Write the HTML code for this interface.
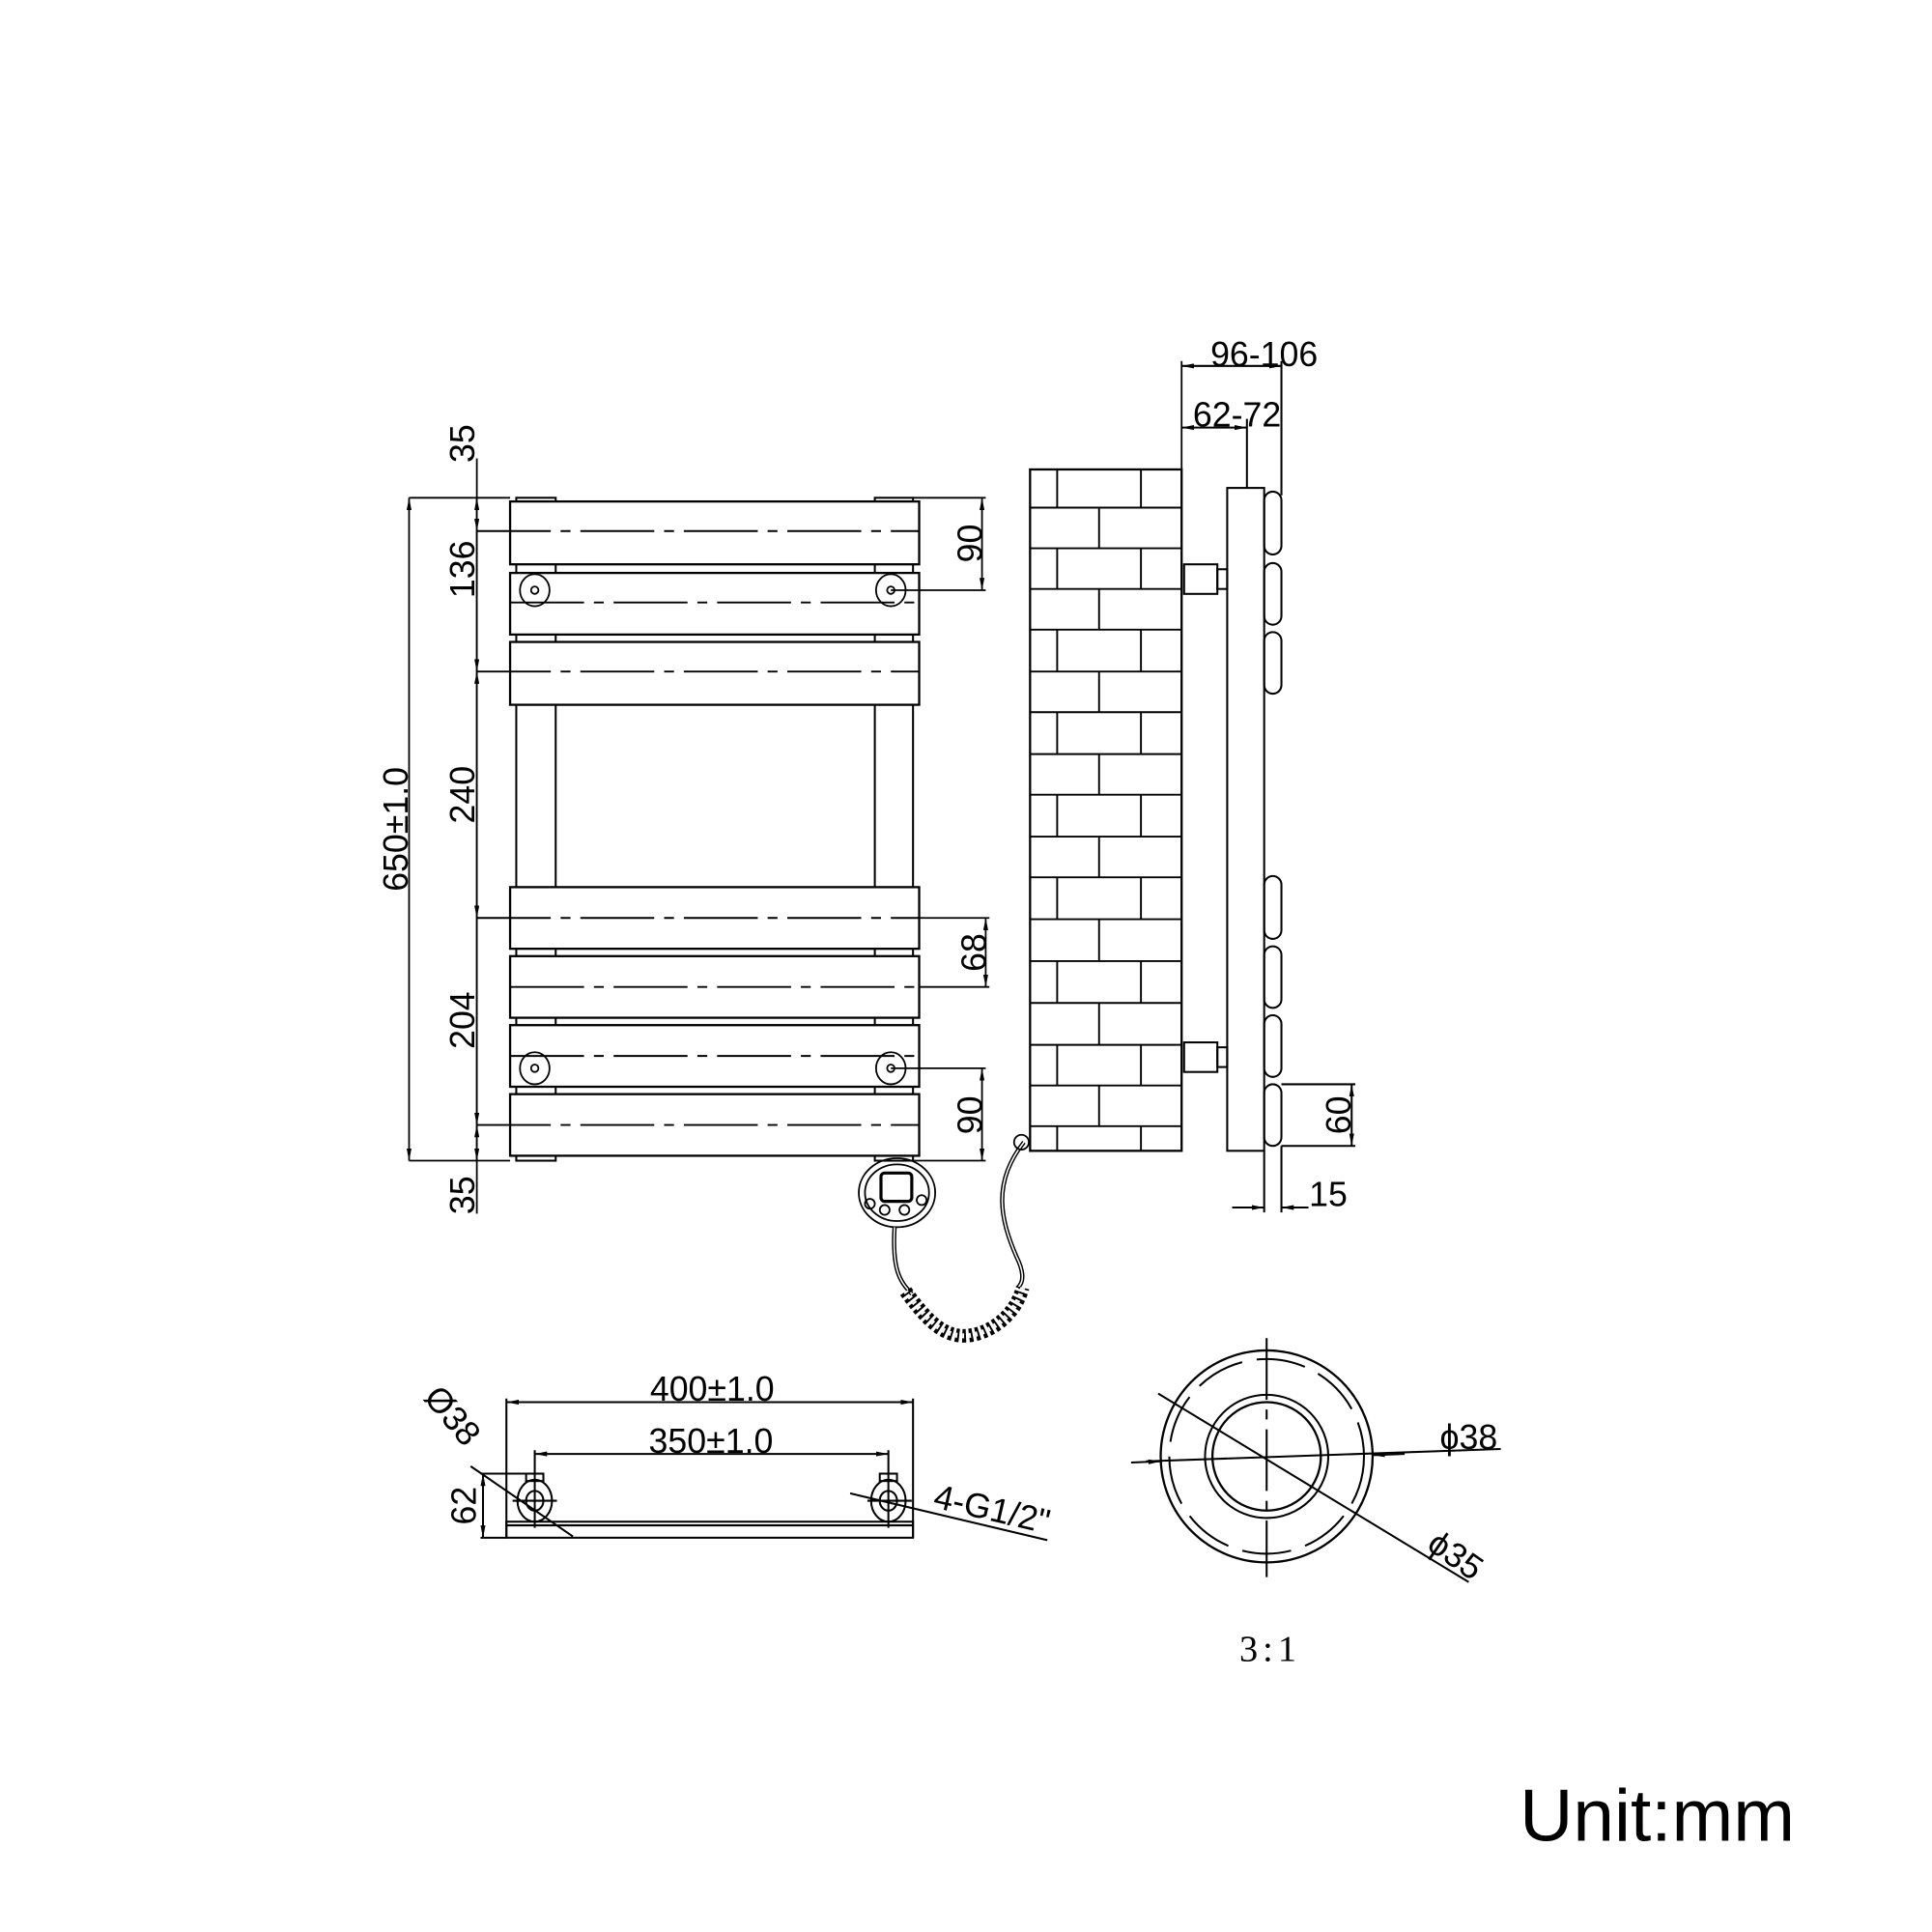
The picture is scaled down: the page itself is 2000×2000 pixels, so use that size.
<!DOCTYPE html>
<html><head><meta charset="utf-8"><style>html,body{margin:0;padding:0;background:#fff}svg{display:block}</style></head>
<body>
<svg width="2000" height="2000" viewBox="0 0 1568 1568" xmlns="http://www.w3.org/2000/svg" font-family="Liberation Sans, sans-serif">
<defs>
<marker id="a" viewBox="0 0 10 4" refX="10" refY="2" markerWidth="10" markerHeight="4" markerUnits="userSpaceOnUse" orient="auto-start-reverse"><path d="M0,0 L10,2 L0,4z" fill="#000"/></marker>
</defs>
<g fill="none" stroke="#000" stroke-width="1.6">
<rect x="419" y="404" width="32" height="3"/><rect x="710" y="404" width="31" height="3"/>
<rect x="419" y="938" width="32" height="4"/><rect x="710" y="938" width="31" height="4"/>
<line x1="419" y1="407" x2="419" y2="938"/><line x1="451" y1="407" x2="451" y2="938"/>
<line x1="710" y1="407" x2="710" y2="938"/><line x1="741" y1="407" x2="741" y2="938"/>
</g>
<g fill="#fff" stroke="#000" stroke-width="1.8">
<rect x="414" y="407" width="332" height="51"/>
<rect x="414" y="465" width="332" height="50"/>
<rect x="414" y="521" width="332" height="51"/>
<rect x="414" y="720" width="332" height="50"/>
<rect x="414" y="776" width="332" height="50"/>
<rect x="414" y="832" width="332" height="50"/>
<rect x="414" y="888" width="332" height="50"/>
</g>
<g stroke="#000" stroke-width="1.5" stroke-dasharray="60,8,8,8">
<line x1="387" y1="431" x2="746" y2="431"/><line x1="414" y1="489" x2="746" y2="489"/>
<line x1="387" y1="545" x2="746" y2="545"/><line x1="387" y1="745" x2="746" y2="745"/>
<line x1="414" y1="801" x2="746" y2="801"/><line x1="414" y1="857" x2="746" y2="857"/>
<line x1="387" y1="913" x2="746" y2="913"/>
</g>
<g fill="none" stroke="#000" stroke-width="1.4">
<ellipse cx="434" cy="479" rx="12" ry="13"/><circle cx="434" cy="479" r="3"/>
<ellipse cx="723" cy="479" rx="12" ry="13"/><circle cx="723" cy="479" r="3"/>
<ellipse cx="434" cy="867" rx="12" ry="13"/><circle cx="434" cy="867" r="3"/>
<ellipse cx="723" cy="867" rx="12" ry="13"/><circle cx="723" cy="867" r="3"/>
<line x1="332" y1="404" x2="414" y2="404"/><line x1="332" y1="942" x2="414" y2="942"/>
<line x1="332" y1="404" x2="332" y2="942" marker-start="url(#a)" marker-end="url(#a)"/>
<line x1="387" y1="372" x2="387" y2="985"/>
<line x1="387" y1="404" x2="387" y2="431" marker-start="url(#a)" marker-end="url(#a)"/>
<line x1="387" y1="431" x2="387" y2="545" marker-end="url(#a)"/>
<line x1="387" y1="545" x2="387" y2="745" marker-start="url(#a)" marker-end="url(#a)"/>
<line x1="387" y1="745" x2="387" y2="913" marker-end="url(#a)"/>
<line x1="387" y1="913" x2="387" y2="942" marker-start="url(#a)" marker-end="url(#a)"/>
<line x1="741" y1="404" x2="800" y2="404"/><line x1="723" y1="479" x2="800" y2="479"/>
<line x1="797" y1="404" x2="797" y2="479" marker-start="url(#a)" marker-end="url(#a)"/>
<line x1="746" y1="745" x2="803" y2="745"/><line x1="746" y1="801" x2="803" y2="801"/>
<line x1="800" y1="745" x2="800" y2="801" marker-start="url(#a)" marker-end="url(#a)"/>
<line x1="723" y1="867" x2="800" y2="867"/><line x1="741" y1="942" x2="800" y2="942"/>
<line x1="797" y1="867" x2="797" y2="942" marker-start="url(#a)" marker-end="url(#a)"/>
<ellipse cx="728" cy="968" rx="31" ry="28"/><ellipse cx="728" cy="968" rx="26" ry="23"/>
<rect x="715" y="952" width="25" height="23" rx="3" stroke-width="2.5"/>
<circle cx="706" cy="977" r="4"/><circle cx="718" cy="982" r="4"/><circle cx="734" cy="982" r="4"/><circle cx="748" cy="974" r="4"/>
<path d="M726,996 C724,1030 730,1040 740,1050" stroke-width="3.5"/>
<path d="M726,996 C724,1030 730,1040 740,1050" stroke="#fff" stroke-width="1.2"/>
<path d="M831,927 C805,960 812,990 825,1020 C830,1030 832,1040 826,1045" stroke-width="3.5"/>
<path d="M831,927 C805,960 812,990 825,1020 C830,1030 832,1040 826,1045" stroke="#fff" stroke-width="1.2"/>
<circle cx="829" cy="927" r="6"/>
<path d="M735,1048 C755,1075 770,1090 795,1082 C815,1075 826,1060 830,1045" stroke-width="11" stroke-dasharray="3,2.5"/>
<path d="M735,1048 C755,1075 770,1090 795,1082 C815,1075 826,1060 830,1045" stroke="#fff" stroke-width="4" stroke-dasharray="1.5,4"/>
<rect x="836" y="381" width="123" height="553" stroke-width="1.8"/>
<line x1="959" y1="293" x2="959" y2="381"/>
</g>
<g stroke="#000" stroke-width="1.5">
<line x1="836" y1="412" x2="959" y2="412"/><line x1="836" y1="445" x2="959" y2="445"/><line x1="836" y1="478" x2="959" y2="478"/><line x1="836" y1="511" x2="959" y2="511"/><line x1="836" y1="545" x2="959" y2="545"/><line x1="836" y1="578" x2="959" y2="578"/><line x1="836" y1="612" x2="959" y2="612"/><line x1="836" y1="645" x2="959" y2="645"/><line x1="836" y1="679" x2="959" y2="679"/><line x1="836" y1="712" x2="959" y2="712"/><line x1="836" y1="746" x2="959" y2="746"/><line x1="836" y1="780" x2="959" y2="780"/><line x1="836" y1="814" x2="959" y2="814"/><line x1="836" y1="848" x2="959" y2="848"/><line x1="836" y1="881" x2="959" y2="881"/><line x1="836" y1="914" x2="959" y2="914"/>
<path d="M858,381V412M926,381V412M892,412V445M858,445V478M926,445V478M892,478V511M858,511V545M926,511V545M892,545V578M858,578V612M926,578V612M892,612V645M858,645V679M926,645V679M892,679V712M858,712V746M926,712V746M892,746V780M858,780V814M926,780V814M892,814V848M858,848V881M926,848V881M892,881V914M858,914V934M926,914V934"/>
</g>
<g fill="none" stroke="#000" stroke-width="1.6">
<rect x="996" y="396" width="30" height="538"/>
<line x1="1012" y1="340" x2="1012" y2="396"/>
<line x1="1040" y1="293" x2="1040" y2="402"/>
<rect x="961" y="458" width="27" height="24"/><rect x="988" y="462" width="8" height="16"/>
<rect x="961" y="846" width="27" height="24"/><rect x="988" y="850" width="8" height="16"/>
<rect x="1026" y="399" width="14" height="51" rx="7"/><rect x="1026" y="457" width="14" height="50" rx="7"/><rect x="1026" y="513" width="14" height="50" rx="7"/>
<rect x="1026" y="711" width="14" height="51" rx="7"/><rect x="1026" y="768" width="14" height="50" rx="7"/><rect x="1026" y="824" width="14" height="50" rx="7"/><rect x="1026" y="880" width="14" height="50" rx="7"/>
<line x1="959" y1="297" x2="1040" y2="297" marker-start="url(#a)" marker-end="url(#a)"/>
<line x1="959" y1="347" x2="1012" y2="347" marker-start="url(#a)" marker-end="url(#a)"/>
<line x1="1040" y1="880" x2="1100" y2="880"/><line x1="1040" y1="930" x2="1100" y2="930"/>
<line x1="1097" y1="880" x2="1097" y2="930" marker-start="url(#a)" marker-end="url(#a)"/>
<line x1="1026" y1="934" x2="1026" y2="984"/><line x1="1040" y1="930" x2="1040" y2="984"/>
<line x1="1000" y1="980" x2="1026" y2="980" marker-end="url(#a)"/><line x1="1062" y1="980" x2="1040" y2="980" marker-end="url(#a)"/>
<rect x="411" y="1235" width="330" height="13"/><line x1="411" y1="1238" x2="741" y2="1238"/>
<line x1="411" y1="1135" x2="411" y2="1248"/><line x1="741" y1="1135" x2="741" y2="1248"/>
<line x1="411" y1="1138" x2="741" y2="1138" marker-start="url(#a)" marker-end="url(#a)"/>
<line x1="434" y1="1177" x2="434" y2="1240"/><line x1="721" y1="1177" x2="721" y2="1240"/>
<line x1="434" y1="1180" x2="721" y2="1180" marker-start="url(#a)" marker-end="url(#a)"/>
<ellipse cx="434" cy="1218" rx="14" ry="17"/><ellipse cx="434" cy="1218" rx="7" ry="8"/>
<ellipse cx="721" cy="1218" rx="14" ry="17"/><ellipse cx="721" cy="1218" rx="7" ry="8"/>
<rect x="427" y="1196" width="14" height="6"/><rect x="714" y="1196" width="14" height="6"/>
<line x1="416" y1="1218" x2="452" y2="1218"/><line x1="704" y1="1218" x2="740" y2="1218"/>
<line x1="390" y1="1196" x2="434" y2="1196"/><line x1="390" y1="1248" x2="411" y2="1248"/>
<line x1="392" y1="1196" x2="392" y2="1248" marker-start="url(#a)" marker-end="url(#a)"/>
<line x1="382" y1="1190" x2="465" y2="1247"/>
<line x1="690" y1="1212" x2="850" y2="1250"/>
<circle cx="1028" cy="1182" r="86" stroke-width="1.8"/>
<circle cx="1028" cy="1182" r="79" stroke-dasharray="40,12"/>
<circle cx="1028" cy="1182" r="50"/>
<circle cx="1028" cy="1182" r="44" stroke-width="1.8"/>
<line x1="1028" y1="1086" x2="1028" y2="1280" stroke-dasharray="50,8,8,8"/>
<line x1="918" y1="1187" x2="942" y2="1186" marker-end="url(#a)"/>
<line x1="930" y1="1186" x2="1218" y2="1176"/>
<line x1="1140" y1="1180" x2="1114" y2="1181" marker-end="url(#a)"/>
<line x1="940" y1="1131" x2="1192" y2="1284"/>
</g>
<g font-size="28" fill="#000">
<text x="578" y="1137" text-anchor="middle">400±1.0</text>
<text x="577" y="1179" text-anchor="middle">350±1.0</text>
<text x="1026" y="297" text-anchor="middle">96-106</text>
<text x="1004" y="346" text-anchor="middle">62-72</text>
<text x="1078" y="979" text-anchor="middle">15</text>
<text x="1192" y="1176" text-anchor="middle">ϕ38</text>
<text transform="translate(1176,1270) rotate(35)" text-anchor="middle">ϕ35</text>
<text transform="translate(803,1234) rotate(13)" text-anchor="middle">4-G1/2"</text>
<text transform="translate(360,1155) rotate(50)" text-anchor="middle">Ø38</text>
<text transform="translate(386,1222) rotate(-90)" text-anchor="middle">62</text>
<text transform="translate(331,673) rotate(-90)" text-anchor="middle">650±1.0</text>
<text transform="translate(385,360) rotate(-90)" text-anchor="middle">35</text>
<text transform="translate(385,462) rotate(-90)" text-anchor="middle">136</text>
<text transform="translate(385,645) rotate(-90)" text-anchor="middle">240</text>
<text transform="translate(385,828) rotate(-90)" text-anchor="middle">204</text>
<text transform="translate(385,970) rotate(-90)" text-anchor="middle">35</text>
<text transform="translate(797,441) rotate(-90)" text-anchor="middle">90</text>
<text transform="translate(800,773) rotate(-90)" text-anchor="middle">68</text>
<text transform="translate(797,905) rotate(-90)" text-anchor="middle">90</text>
<text transform="translate(1096,905) rotate(-90)" text-anchor="middle">60</text>
</g>
<text x="1031" y="1348" font-family="Liberation Serif, serif" font-size="30" letter-spacing="4" text-anchor="middle">3:1</text>
<text x="1345" y="1494" font-size="60" text-anchor="middle">Unit:mm</text>
</svg>
</body></html>
